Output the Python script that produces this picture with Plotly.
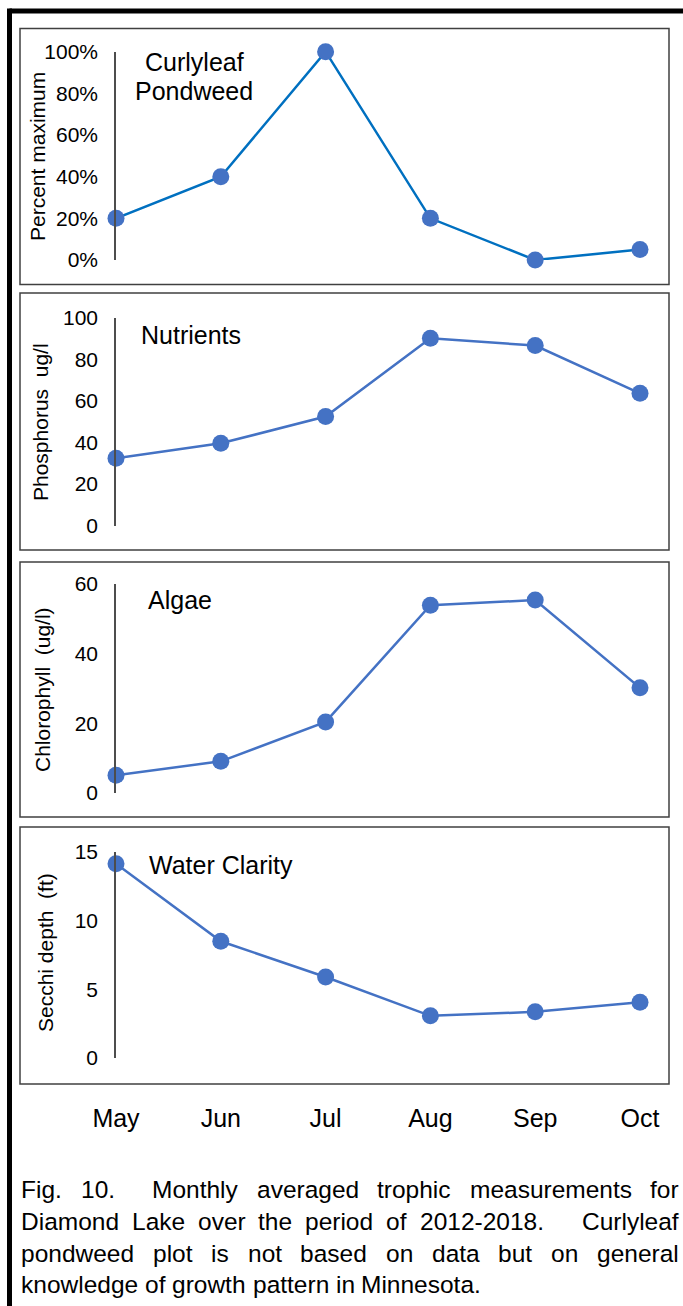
import re
import plotly.graph_objects as go

W, H = 683, 1306

# ---------------- data ----------------
months = ["May", "Jun", "Jul", "Aug", "Sep", "Oct"]
curlyleaf_pct = [20, 40, 100, 20, 0, 5]
phosphorus = [32.4, 39.6, 52.5, 90.2, 86.7, 63.7]
chlorophyll = [5.1, 9.1, 20.4, 53.9, 55.4, 30.2]
secchi = [14.15, 8.5, 5.9, 3.07, 3.36, 4.06]

pct_ticks = [0, 20, 40, 60, 80, 100]
pct_tick_labels = ["0%", "20%", "40%", "60%", "80%", "100%"]
phos_ticks = [0, 20, 40, 60, 80, 100]
chl_ticks = [0, 20, 40, 60]
secchi_ticks = [0, 5, 10, 15]

panel_labels = [["Curlyleaf", "Pondweed"], ["Nutrients"], ["Algae"], ["Water Clarity"]]
y_titles = ["Percent maximum", "Phosphorus\u00a0 ug/l", "Chlorophyll\u00a0 (ug/l)", "Secchi depth\u00a0 (ft)"]
caption_lines = [
    "Fig. 10.  Monthly averaged trophic measurements for",
    "Diamond Lake over the period of 2012-2018.   Curlyleaf",
    "pondweed plot is not based on data but on general",
    "knowledge of growth pattern in Minnesota.",
]

FONT = "Liberation Sans, Arial, Helvetica, sans-serif"
MARKER_C = "#4472C4"
LINE_C = ["#0070C0", "#4472C4", "#4472C4", "#4472C4"]
TICK_SIZE = 21
TITLE_SIZE = 21
LABEL_SIZE = 25
MONTH_SIZE = 25
CAP_SIZE = 24.5


def px(x):
    return x / W


def py(y):
    return 1 - y / H


# pixel layout of each panel: (value-0 y, top-value y, box top, box bottom)
panels = [
    dict(vals=curlyleaf_pct, ticks=pct_ticks, ticktext=pct_tick_labels, y0=260, y1=51.7, bt=28.5, bb=284.5,
         lab_x=194, lab_y=[62, 91], tit_x=37, tit_y=157),
    dict(vals=phosphorus, ticks=phos_ticks, ticktext=[str(v) for v in phos_ticks], y0=525.5, y1=318, bt=293, bb=550,
         lab_x=191, lab_y=[335], tit_x=41, tit_y=422),
    dict(vals=chlorophyll, ticks=chl_ticks, ticktext=[str(v) for v in chl_ticks], y0=793, y1=584, bt=562, bb=817,
         lab_x=180, lab_y=[600], tit_x=42, tit_y=690),
    dict(vals=secchi, ticks=secchi_ticks, ticktext=[str(v) for v in secchi_ticks], y0=1058, y1=852, bt=827, bb=1084,
         lab_x=221, lab_y=[865], tit_x=45, tit_y=953),
]

X_LEFT, X_RIGHT = 116, 640

fig = go.Figure()
layout = dict(
    width=W, height=H, autosize=False,
    margin=dict(l=0, r=0, t=0, b=0, pad=0, autoexpand=False),
    paper_bgcolor="white", plot_bgcolor="rgba(0,0,0,0)",
    showlegend=False,
    font=dict(family=FONT, color="black"),
)
shapes = []
annotations = []

for i, p in enumerate(panels):
    n = i + 1
    xa = "x" if n == 1 else f"x{n}"
    ya = "y" if n == 1 else f"y{n}"
    fig.add_trace(go.Scatter(
        x=months, y=p["vals"], xaxis=xa, yaxis=ya, mode="lines+markers",
        line=dict(color=LINE_C[i], width=2.5),
        marker=dict(color=MARKER_C, size=17),
        cliponaxis=False, hoverinfo="skip",
    ))
    last = n == 4
    layout["xaxis" if n == 1 else f"xaxis{n}"] = dict(
        domain=[px(X_LEFT), px(X_RIGHT)], anchor=ya,
        type="category", categoryorder="array", categoryarray=months,
        range=[0, len(months) - 1],
        showgrid=False, zeroline=False, showline=False, ticks="",
        showticklabels=last, automargin=False,
        tickfont=dict(size=MONTH_SIZE, family=FONT, color="black"),
        ticklabelstandoff=43 if last else 0,
        fixedrange=True,
    )
    top = p["ticks"][-1]
    layout["yaxis" if n == 1 else f"yaxis{n}"] = dict(
        domain=[py(p["y0"]), py(p["y1"])], anchor=xa,
        range=[0, top],
        tickmode="array", tickvals=p["ticks"], ticktext=p["ticktext"],
        showgrid=False, zeroline=False,
        showline=True, linecolor="#4d4d4d", linewidth=1.5,
        ticks="", ticklabelstandoff=12, automargin=False,
        tickfont=dict(size=TICK_SIZE, family=FONT, color="black"),
        fixedrange=True,
    )
    # panel box
    shapes.append(dict(type="rect", xref="paper", yref="paper",
                       x0=px(20), x1=px(669), y0=py(p["bb"]), y1=py(p["bt"]),
                       line=dict(color="#404040", width=1.5), fillcolor="rgba(0,0,0,0)"))
    # panel label
    for txt, ly in zip(panel_labels[i], p["lab_y"]):
        annotations.append(dict(text=txt, xref="paper", yref="paper", x=px(p["lab_x"]), y=py(ly),
                                xanchor="center", yanchor="middle", showarrow=False,
                                font=dict(size=LABEL_SIZE, family=FONT, color="black")))
    # y title
    annotations.append(dict(text=y_titles[i], xref="paper", yref="paper", x=px(p["tit_x"]), y=py(p["tit_y"]),
                            xanchor="center", yanchor="middle", showarrow=False, textangle=-90,
                            font=dict(size=TITLE_SIZE, family=FONT, color="black")))

# outer thick frame (top and left edges visible)
shapes.append(dict(type="line", xref="paper", yref="paper", x0=px(9.5), x1=px(W), y0=py(11), y1=py(11),
                   line=dict(color="black", width=5)))
shapes.append(dict(type="line", xref="paper", yref="paper", x0=px(9.5), x1=px(9.5), y0=py(8.5), y1=py(H),
                   line=dict(color="black", width=5)))

# caption, justified word by word
HELV = {' ': 278, '.': 278, '-': 333, '(': 333, ')': 333, '/': 278, ',': 278,
        'A': 667, 'B': 667, 'C': 722, 'D': 722, 'E': 667, 'F': 611, 'G': 778, 'H': 722, 'I': 278,
        'J': 500, 'K': 667, 'L': 556, 'M': 833, 'N': 722, 'O': 778, 'P': 667, 'Q': 778, 'R': 722,
        'S': 667, 'T': 611, 'U': 722, 'V': 667, 'W': 944, 'X': 667, 'Y': 667, 'Z': 611,
        'a': 556, 'b': 556, 'c': 500, 'd': 556, 'e': 556, 'f': 278, 'g': 556, 'h': 556, 'i': 222,
        'j': 222, 'k': 500, 'l': 222, 'm': 833, 'n': 556, 'o': 556, 'p': 556, 'q': 556, 'r': 333,
        's': 500, 't': 278, 'u': 556, 'v': 500, 'w': 722, 'x': 500, 'y': 500, 'z': 500}


def tw(s, size):
    return sum(HELV.get(c, 556) for c in s) * size / 1000


CAP_L, CAP_R = 20, 678
cap_y = [1189, 1221, 1253, 1284]
for li, (line, ly) in enumerate(zip(caption_lines, cap_y)):
    toks = re.findall(r"(\S+)(\s*)", line)
    words = [t[0] for t in toks]
    gaps = [len(t[1]) for t in toks[:-1]]
    wsum = sum(tw(w, CAP_SIZE) for w in words)
    justify = li < len(caption_lines) - 1
    if justify and sum(gaps) > 0:
        sp = (CAP_R - CAP_L - wsum) / sum(gaps)
    else:
        sp = tw(" ", CAP_SIZE)
    xcur = CAP_L
    for wi, w in enumerate(words):
        annotations.append(dict(text=w, xref="paper", yref="paper", x=px(xcur), y=py(ly),
                                xanchor="left", yanchor="middle", showarrow=False, borderpad=0,
                                font=dict(size=CAP_SIZE, family=FONT, color="black")))
        xcur += tw(w, CAP_SIZE)
        if wi < len(gaps):
            xcur += sp * gaps[wi]

layout["shapes"] = shapes
layout["annotations"] = annotations
fig.update_layout(**layout)

fig.write_html("out.html", config={"displayModeBar": False},
               post_script="document.body.style.margin='0';document.body.style.padding='0';")
